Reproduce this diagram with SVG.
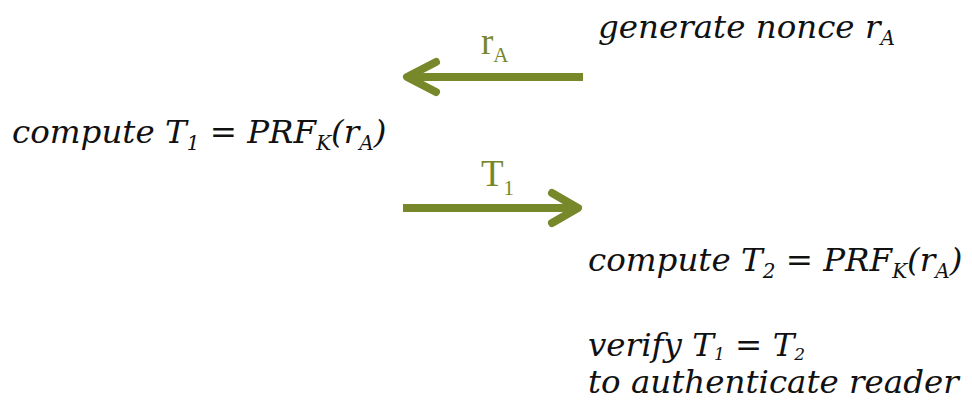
<svg xmlns="http://www.w3.org/2000/svg" width="972" height="401" viewBox="0 0 972 401">
<style>
.t{font-family:"DejaVu Serif","Liberation Serif",serif;font-style:italic;font-size:32.5px;fill:#111}
.s{font-size:20px}
.lbl{font-family:"Liberation Serif",serif;font-size:37px;fill:#77882A}
.ls{font-size:21px}
.ar{stroke:#77882A;stroke-width:8;fill:none;stroke-linecap:round;stroke-linejoin:round}
</style>
<rect width="972" height="401" fill="#fff"/>
<g id="connectors">
<g id="msg-rA">
<line class="ar" x1="583" y1="77" x2="407" y2="77" style="stroke-linecap:butt"/>
<polyline class="ar" points="436,62 407,77 436,92"/>
<text class="lbl" x="481" y="54">r<tspan class="ls" dy="8">A</tspan></text>
</g>
<g id="msg-T1">
<line class="ar" x1="403" y1="208" x2="578" y2="208" style="stroke-linecap:butt"/>
<polyline class="ar" points="552,193 578,208 552,223"/>
<text class="lbl" x="481" y="186">T<tspan class="ls" dy="9">1</tspan></text>
</g>
</g>
<g id="reader-gen">
<text class="t" x="598" y="38">generate nonce r<tspan class="s" dy="7">A</tspan></text>
</g>
<g id="tag-compute">
<text class="t" x="12" y="143">compute T<tspan class="s" dy="7">1</tspan><tspan dy="-7"> = PRF</tspan><tspan class="s" dy="7">K</tspan><tspan dy="-7">(r</tspan><tspan class="s" dy="7">A</tspan><tspan dy="-7">)</tspan></text>
</g>
<g id="reader-compute">
<text class="t" x="588" y="271">compute T<tspan class="s" dy="7">2</tspan><tspan dy="-7"> = PRF</tspan><tspan class="s" dy="7">K</tspan><tspan dy="-7">(r</tspan><tspan class="s" dy="7">A</tspan><tspan dy="-7">)</tspan></text>
</g>
<g id="reader-verify">
<text class="t" x="588" y="356">verify T<tspan class="s" dy="4" style="font-size:17px">1</tspan><tspan dy="-4"> = T</tspan><tspan class="s" dy="4" style="font-size:17px">2</tspan></text>
<text class="t" x="588" y="393">to authenticate reader</text>
</g>
</svg>
